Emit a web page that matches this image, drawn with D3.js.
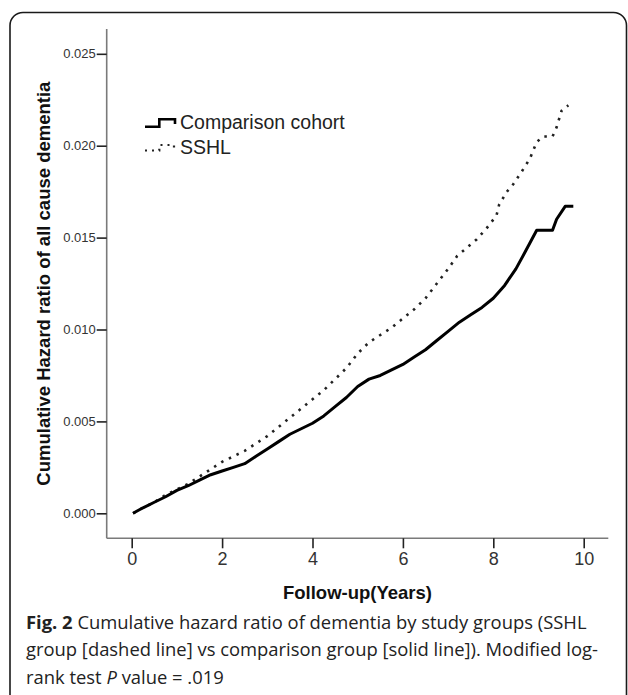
<!DOCTYPE html>
<html>
<head>
<meta charset="utf-8">
<script src="https://cdn.jsdelivr.net/npm/d3@7"></script>
<style>
  html, body { margin: 0; padding: 0; background: #fff; }
  svg { display: block; }
</style>
</head>
<body>
<svg id="chart" width="628" height="695"></svg>
<script>
// ---- Data ----
const xTicks = [0, 2, 4, 6, 8, 10];
const yTicks = [0.000, 0.005, 0.010, 0.015, 0.020, 0.025];
const yTickLabels = ["0.000", "0.005", "0.010", "0.015", "0.020", "0.025"];
const seriesNames = ["Comparison cohort", "SSHL"];

const comparisonYears = [0.03, 0.25, 0.5, 0.75, 1.0, 1.25, 1.5, 1.75, 2.0, 2.25, 2.5, 2.75, 3.0, 3.25, 3.5, 3.75,
  4.0, 4.25, 4.5, 4.75, 5.0, 5.25, 5.5, 5.75, 6.0, 6.25, 6.5, 6.75, 7.0, 7.25, 7.5, 7.75, 8.0, 8.25, 8.5, 8.7,
  8.96, 9.31, 9.4, 9.59, 9.77];
const comparisonHazard = [0.0000, 0.0003, 0.0006, 0.0009, 0.00125, 0.0015, 0.0018, 0.0021, 0.0023, 0.0025, 0.0027,
  0.0031, 0.0035, 0.0039, 0.0043, 0.0046, 0.0049, 0.0053, 0.0058, 0.0063, 0.0069, 0.0073, 0.0075, 0.0078, 0.0081,
  0.0085, 0.0089, 0.0094, 0.0099, 0.0104, 0.0108, 0.0112, 0.0117, 0.0124, 0.0133, 0.0142, 0.0154, 0.0154, 0.0160,
  0.0167, 0.0167];

const sshlYears = [0.03, 0.25, 0.5, 0.75, 1.0, 1.25, 1.5, 1.75, 2.0, 2.25, 2.5, 2.75, 3.0, 3.25, 3.5, 3.75,
  4.0, 4.25, 4.5, 4.75, 5.0, 5.25, 5.5, 5.75, 6.0, 6.25, 6.5, 6.75, 7.0, 7.2, 7.63, 7.85, 8.07, 8.13, 8.3, 8.44,
  8.63, 8.81, 8.96, 9.1, 9.31, 9.4, 9.51, 9.66];
const sshlHazard = [0.0000, 0.0003, 0.0006, 0.0010, 0.0013, 0.0016, 0.0020, 0.0024, 0.0028, 0.0031, 0.0034, 0.0038,
  0.0042, 0.0047, 0.0052, 0.0057, 0.0062, 0.0067, 0.0073, 0.0079, 0.0087, 0.0093, 0.0097, 0.0101, 0.0106, 0.0111,
  0.0117, 0.0125, 0.0133, 0.0140, 0.0149, 0.0155, 0.0162, 0.0168, 0.0175, 0.0179, 0.0186, 0.0193, 0.0202, 0.0205,
  0.0205, 0.0210, 0.0219, 0.0222];

const xTitle = "Follow-up(Years)";
const yTitle = "Cumulative Hazard ratio of all cause dementia";
const captionLines = [
  [{t: "Fig. 2", b: true}, {t: " Cumulative hazard ratio of dementia by study groups (SSHL"}],
  [{t: "group [dashed line] vs comparison group [solid line]). Modified log-"}],
  [{t: "rank test "}, {t: "P", i: true}, {t: " value = .019"}]
];

// ---- Layout ----
const svg = d3.select("#chart");
const plot = {left: 106.7, right: 608.3, top: 29, bottom: 538.3};

const x = d3.scaleLinear().domain([-0.553, 10.544]).range([plot.left, plot.right]);
const y = d3.scaleLinear().domain([-0.00136, 0.02635]).range([plot.bottom, plot.top]);

// outer rounded border
svg.append("rect")
  .attr("x", 10).attr("y", 12.5)
  .attr("width", 616.5).attr("height", 720)
  .attr("rx", 13).attr("ry", 13)
  .attr("fill", "none").attr("stroke", "#1a1a1a").attr("stroke-width", 1.6);

// axes
const axisFont = "'Liberation Sans', Arial, sans-serif";

const yAxis = svg.append("g").attr("transform", `translate(${plot.left},0)`)
  .call(d3.axisLeft(y).tickValues(yTicks).tickFormat((d, i) => yTickLabels[i]).tickSize(10).tickPadding(1));
yAxis.select(".domain").attr("d", `M0,${plot.top}V${plot.bottom}`).attr("stroke", "#7a7a7a").attr("stroke-width", 1.6);
yAxis.selectAll(".tick line").attr("stroke", "#222").attr("stroke-width", 1.6);
yAxis.selectAll(".tick text").attr("font-family", axisFont).attr("font-size", 13).attr("fill", "#333");

const xAxis = svg.append("g").attr("transform", `translate(0,${plot.bottom})`)
  .call(d3.axisBottom(x).tickValues(xTicks).tickFormat(d3.format("d")).tickSize(10).tickPadding(4));
xAxis.select(".domain").attr("d", `M${plot.left},0H${plot.right}`).attr("stroke", "#7a7a7a").attr("stroke-width", 1.6);
xAxis.selectAll(".tick line").attr("stroke", "#222").attr("stroke-width", 1.6);
xAxis.selectAll(".tick text").attr("font-family", axisFont).attr("font-size", 18).attr("fill", "#333");

// axis titles
svg.append("text")
  .attr("x", (plot.left + plot.right) / 2).attr("y", 592)
  .attr("text-anchor", "middle").attr("dominant-baseline", "central")
  .attr("font-family", axisFont).attr("font-weight", "bold").attr("font-size", 18.5).attr("fill", "#111")
  .text(xTitle);

svg.append("text")
  .attr("transform", `translate(43,${(plot.top + plot.bottom) / 2}) rotate(-90)`)
  .attr("text-anchor", "middle").attr("dominant-baseline", "central")
  .attr("font-family", axisFont).attr("font-weight", "bold").attr("font-size", 18.5).attr("fill", "#111")
  .text(yTitle);

// lines
const line = d3.line().x(d => x(d[0])).y(d => y(d[1])).curve(d3.curveLinear);
const compData = comparisonYears.map((t, i) => [t, comparisonHazard[i]]);
const sshlData = sshlYears.map((t, i) => [t, sshlHazard[i]]);

svg.append("path").datum(sshlData)
  .attr("d", line).attr("fill", "none")
  .attr("stroke", "#222").attr("stroke-width", 2.6)
  .attr("stroke-dasharray", "2.5,6");

svg.append("path").datum(compData)
  .attr("d", line).attr("fill", "none")
  .attr("stroke", "#000").attr("stroke-width", 3)
  .attr("stroke-linejoin", "round");

// legend
const lg = svg.append("g").attr("transform", "translate(145,0)");
lg.append("path")
  .attr("d", "M0,126.7 H14.3 V119.3 H30 V124")
  .attr("fill", "none").attr("stroke", "#000").attr("stroke-width", 2.6);
lg.append("path")
  .attr("d", "M0,150.5 H14.3 V145 H29 V150")
  .attr("fill", "none").attr("stroke", "#222").attr("stroke-width", 2.2)
  .attr("stroke-dasharray", "2,5");
lg.selectAll("text.leg").data(seriesNames).enter().append("text")
  .attr("class", "leg")
  .attr("x", 35).attr("y", (d, i) => 128.5 + i * 25.7)
  .attr("font-family", axisFont).attr("font-size", 19.5).attr("fill", "#222")
  .text(d => d);

// caption
const cap = svg.append("g");
captionLines.forEach((parts, li) => {
  const t = cap.append("text")
    .attr("x", 26).attr("y", 628.5 + li * 27.8)
    .attr("font-family", "'Open Sans', 'Noto Sans', sans-serif")
    .attr("font-size", 18.4).attr("fill", "#222");
  parts.forEach(p => {
    t.append("tspan")
      .attr("font-weight", p.b ? "bold" : null)
      .attr("font-style", p.i ? "italic" : null)
      .text(p.t);
  });
});
</script>
</body>
</html>
